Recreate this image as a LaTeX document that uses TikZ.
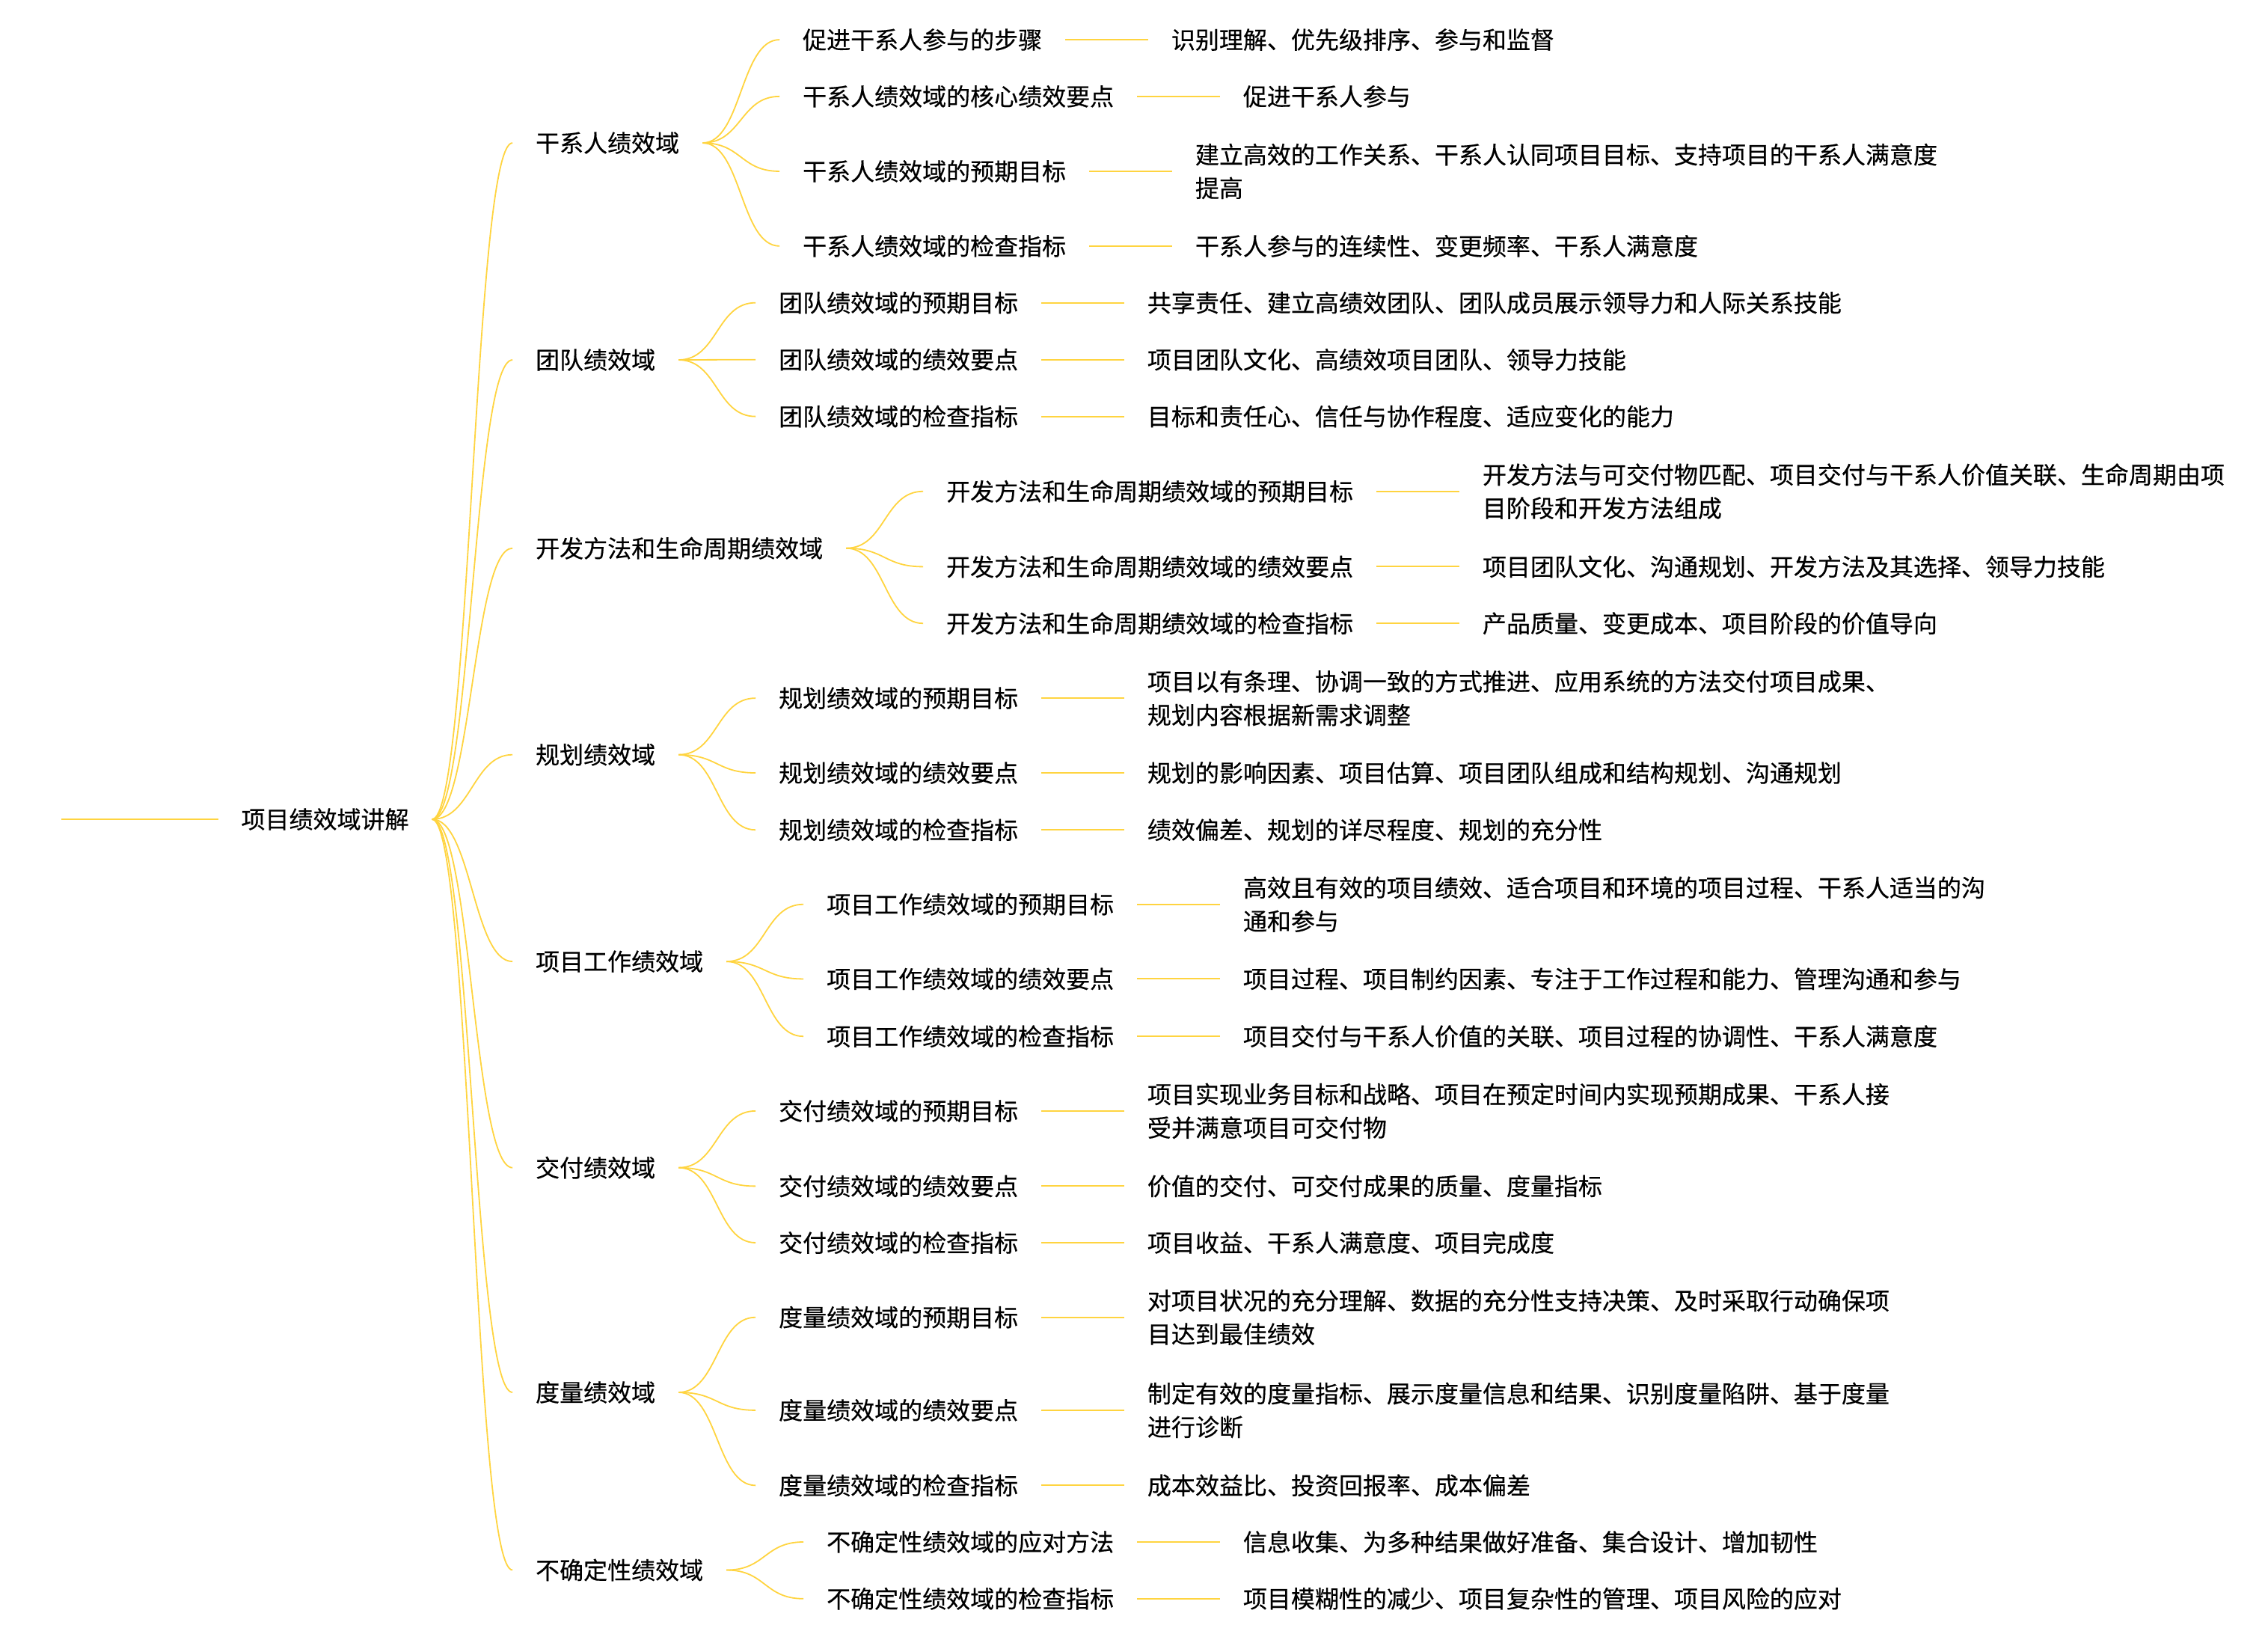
\documentclass[tikz,border=0pt]{standalone}
\usepackage{fontspec}
\newfontfamily\cjk[FakeBold=0.4]{Noto Sans CJK SC}
\usetikzlibrary{calc}
\definecolor{branch}{RGB}{255,212,64}
\definecolor{txt}{RGB}{0,0,0}
\tikzset{
  lbl/.style={anchor=west, inner xsep=31pt, inner ysep=0pt, outer sep=0pt, text=txt,
    align=left, font=\cjk\fontsize{32}{44.7}\selectfont},
  curve/.style={draw=branch, line width=1.8pt},
  link/.style={draw=branch, line width=2.1pt},
}
% #1 parent, #2 name, #3 y, #4 second-level text, #5 third-level text
\newcommand\twig[5]{%
  \node[lbl] (#2) at ($(#1.east |- 0,#3)+(53,0)$) {#4};
  \node[lbl] (#2v) at ($(#2.east)+(57,0)$) {#5};
  \draw[curve] (#1.east) .. controls +(27,0) and +(-27,0) .. (#2.west);
  \draw[link] (#2.east) -- (#2v.west);
}
\begin{document}
\begin{tikzpicture}[x=1.94359pt,y=-1.94359pt]
\useasboundingbox (0,0) rectangle (1560,1127.8);
\coordinate (start) at (42,563.4);
\node[lbl] (root) at (150,563.4) {项目绩效域讲解};
\draw[link] (start) -- (root.west);

\node[lbl] (d1) at (352.5,98.3) {干系人绩效域};
\node[lbl] (d2) at (352.5,247.5) {团队绩效域};
\node[lbl] (d3) at (352.5,377) {开发方法和生命周期绩效域};
\node[lbl] (d4) at (352.5,519) {规划绩效域};
\node[lbl] (d5) at (352.5,661.2) {项目工作绩效域};
\node[lbl] (d6) at (352.5,803) {交付绩效域};
\node[lbl] (d7) at (352.5,957.5) {度量绩效域};
\node[lbl] (d8) at (352.5,1079.7) {不确定性绩效域};
\foreach \i in {1,...,8}
  \draw[curve] (root.east) .. controls +(27,0) and +(-27,0) .. (d\i.west);

\twig{d1}{s11}{27.3}{促进干系人参与的步骤}{识别理解、优先级排序、参与和监督}
\twig{d1}{s12}{66.3}{干系人绩效域的核心绩效要点}{促进干系人参与}
\twig{d1}{s13}{117.8}{干系人绩效域的预期目标}{建立高效的工作关系、干系人认同项目目标、支持项目的干系人满意度\\提高}
\twig{d1}{s14}{169.2}{干系人绩效域的检查指标}{干系人参与的连续性、变更频率、干系人满意度}

\twig{d2}{s21}{208.2}{团队绩效域的预期目标}{共享责任、建立高绩效团队、团队成员展示领导力和人际关系技能}
\twig{d2}{s22}{247.3}{团队绩效域的绩效要点}{项目团队文化、高绩效项目团队、领导力技能}
\twig{d2}{s23}{286.4}{团队绩效域的检查指标}{目标和责任心、信任与协作程度、适应变化的能力}

\twig{d3}{s31}{337.9}{开发方法和生命周期绩效域的预期目标}{开发方法与可交付物匹配、项目交付与干系人价值关联、生命周期由项\\目阶段和开发方法组成}
\twig{d3}{s32}{389.7}{开发方法和生命周期绩效域的绩效要点}{项目团队文化、沟通规划、开发方法及其选择、领导力技能}
\twig{d3}{s33}{428.7}{开发方法和生命周期绩效域的检查指标}{产品质量、变更成本、项目阶段的价值导向}

\twig{d4}{s41}{480.1}{规划绩效域的预期目标}{项目以有条理、协调一致的方式推进、应用系统的方法交付项目成果、\\规划内容根据新需求调整}
\twig{d4}{s42}{531.5}{规划绩效域的绩效要点}{规划的影响因素、项目估算、项目团队组成和结构规划、沟通规划}
\twig{d4}{s43}{570.7}{规划绩效域的检查指标}{绩效偏差、规划的详尽程度、规划的充分性}

\twig{d5}{s51}{621.9}{项目工作绩效域的预期目标}{高效且有效的项目绩效、适合项目和环境的项目过程、干系人适当的沟\\通和参与}
\twig{d5}{s52}{673.2}{项目工作绩效域的绩效要点}{项目过程、项目制约因素、专注于工作过程和能力、管理沟通和参与}
\twig{d5}{s53}{712.7}{项目工作绩效域的检查指标}{项目交付与干系人价值的关联、项目过程的协调性、干系人满意度}

\twig{d6}{s61}{764}{交付绩效域的预期目标}{项目实现业务目标和战略、项目在预定时间内实现预期成果、干系人接\\受并满意项目可交付物}
\twig{d6}{s62}{815.7}{交付绩效域的绩效要点}{价值的交付、可交付成果的质量、度量指标}
\twig{d6}{s63}{854.6}{交付绩效域的检查指标}{项目收益、干系人满意度、项目完成度}

\twig{d7}{s71}{905.9}{度量绩效域的预期目标}{对项目状况的充分理解、数据的充分性支持决策、及时采取行动确保项\\目达到最佳绩效}
\twig{d7}{s72}{969.8}{度量绩效域的绩效要点}{制定有效的度量指标、展示度量信息和结果、识别度量陷阱、基于度量\\进行诊断}
\twig{d7}{s73}{1021.5}{度量绩效域的检查指标}{成本效益比、投资回报率、成本偏差}

\twig{d8}{s81}{1060.4}{不确定性绩效域的应对方法}{信息收集、为多种结果做好准备、集合设计、增加韧性}
\twig{d8}{s82}{1099.4}{不确定性绩效域的检查指标}{项目模糊性的减少、项目复杂性的管理、项目风险的应对}
\end{tikzpicture}
\end{document}
